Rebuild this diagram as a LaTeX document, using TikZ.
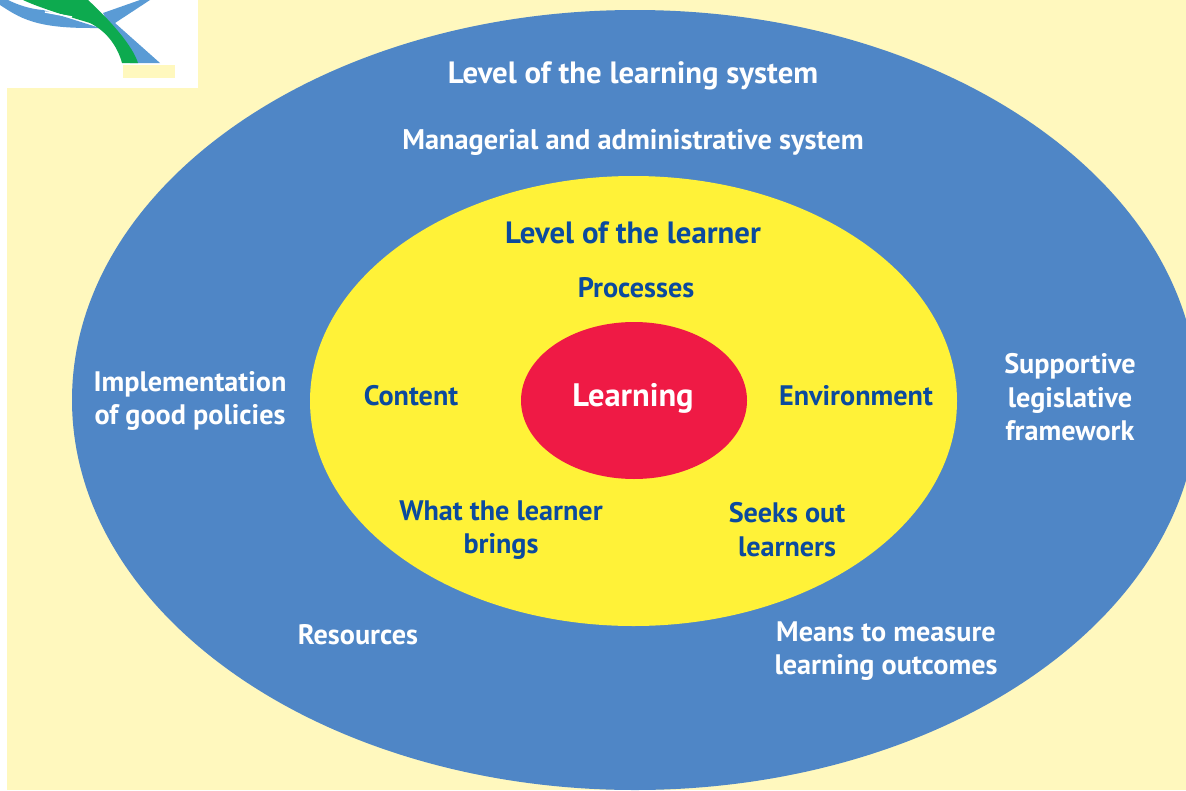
\documentclass[tikz,border=0pt]{standalone}
\usepackage{fontspec}
\setmainfont{PT Sans}
\definecolor{paper}{HTML}{FFF8BE}
\definecolor{outerblue}{HTML}{4F86C6}
\definecolor{inneryellow}{HTML}{FFF238}
\definecolor{innerred}{HTML}{EF1A45}
\definecolor{labelblue}{HTML}{0B4A9E}
\definecolor{logogreen}{HTML}{0DAA4F}
\definecolor{logoblue}{HTML}{5A9BD5}
\tikzset{
  outerlabel/.style={text=white, font=\bfseries\fontsize{28.2}{33.5}\selectfont, align=center, inner sep=0pt},
  innerlabel/.style={text=labelblue, font=\bfseries\fontsize{28.2}{33.5}\selectfont, align=center, inner sep=0pt},
}
\begin{document}
\begin{tikzpicture}[x=1pt,y=-1pt]
\useasboundingbox (0,0) rectangle (1186,790);
\fill[white] (0,0) rectangle (1186,790);
\fill[paper] (7,88) rectangle (1186,790);
\fill[paper] (198,0) rectangle (1186,88);

% logo corner
\fill[logoblue] (0,5) .. controls (20,18) and (35,28) .. (90,28) -- (100,28) -- (43,10) .. controls (30,9) and (18,5) .. (8,0) -- (0,0) -- cycle;
\fill[logoblue] (103,13) -- (140,0) -- (150,0) -- (115,23) -- (160,63) -- (130,63) -- cycle;
\fill[logogreen] (23,0) .. controls (40,8) and (70,17) .. (90,23) .. controls (108,32) and (118,48) .. (122,63) -- (138,63) .. controls (133,47) and (113,23) .. (88,0) -- cycle;
\draw[white, line width=1.5pt] (45,12) -- (72,17);
\fill[paper] (123,65) rectangle (175,78);

% rings
\begin{scope}
\clip (0,0) rectangle (1186,790);
\fill[outerblue] (635,400) ellipse [x radius=563, y radius=390];
\end{scope}
\fill[inneryellow] (633.5,401) ellipse [x radius=323.5, y radius=225];
\fill[innerred] (634,400.5) ellipse [x radius=113, y radius=78.5];

% outer ring
\node[outerlabel, font=\bfseries\fontsize{30.8}{36}\selectfont] (system) at (633,76) {Level of the learning system};
\node[outerlabel, font=\bfseries\fontsize{28.4}{33.5}\selectfont] (managerial) at (633,142) {Managerial and administrative system};
\node[outerlabel] (policies) at (190,401) {Implementation\\of good policies};
\node[outerlabel] (framework) at (1070,397.5) {Supportive\\legislative\\framework};
\node[outerlabel] (resources) at (358,635) {Resources};
\node[outerlabel] (outcomes) at (886,651) {Means to measure\\learning outcomes};

% yellow ring
\node[innerlabel, font=\bfseries\fontsize{30.8}{36}\selectfont] (learner) at (633,233) {Level of the learner};
\node[innerlabel] (processes) at (636,288) {Processes};
\node[innerlabel] (content) at (411,396) {Content};
\node[innerlabel] (environment) at (856,396) {Environment};
\node[innerlabel] (brings) at (501,530) {What the learner\\brings};
\node[innerlabel] (seeks) at (787,529.5) {Seeks out\\learners};

\node[text=white, font=\bfseries\fontsize{32.5}{38}\selectfont, inner sep=0pt] (learning) at (633,398) {Learning};
\end{tikzpicture}
\end{document}
